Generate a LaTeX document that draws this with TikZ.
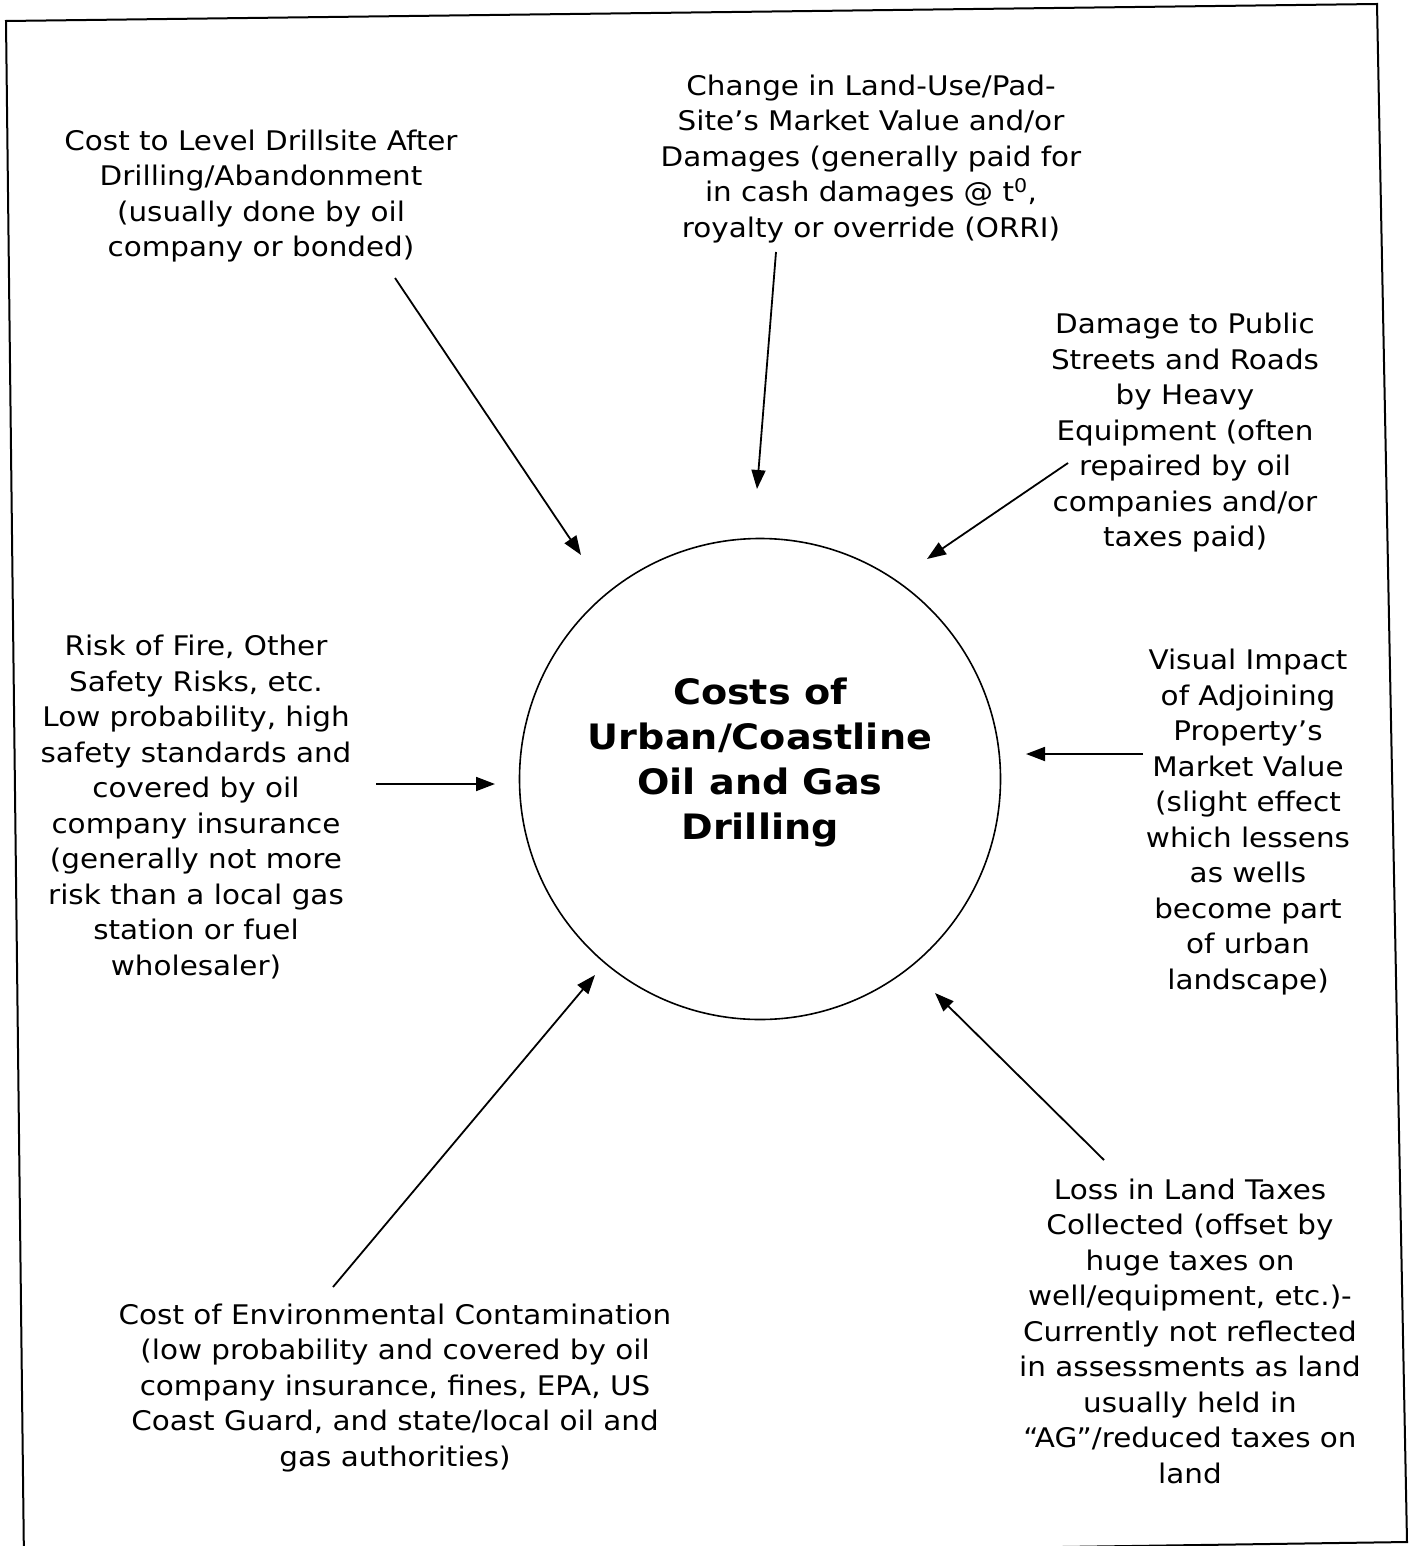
\documentclass[tikz,border=0pt]{standalone}
\usepackage{fontspec}
\setmainfont{DejaVu Sans}[FakeStretch=1.09]
\usetikzlibrary{arrows.meta}
\begin{document}
\begin{tikzpicture}[x=1pt,y=-1pt,
  lbl/.style={align=center, font=\fontsize{27}{35.5}\selectfont, inner sep=0pt},
  ttl/.style={align=center, font=\bfseries\fontsize{35}{45}\selectfont, inner sep=0pt},
  arr/.style={line width=1.8pt, -{Triangle[length=19pt,width=14pt]}},
  frame/.style={line width=2pt}]
\useasboundingbox (0,0) rectangle (1414,1546);
\draw[frame] (6,21) -- (1377,4) -- (1407,1542) -- (24,1562) -- cycle;
\node[circle, draw, line width=1.6pt, minimum size=481pt, inner sep=0pt] (c) at (760,779) {};
\node[ttl] (ct) at (760,762) {Costs of\\Urban/Coastline\\Oil and Gas\\Drilling};
\node[lbl] (t1) at (261,196) {Cost to Level Drillsite After\\Drilling/Abandonment\\(usually done by oil\\company or bonded)};
\node[lbl] (t2) at (871,159) {Change in Land-Use/Pad-\\Site’s Market Value and/or\\Damages (generally paid for\\in cash damages @ t\textsuperscript{0},\\royalty or override (ORRI)};
\node[lbl] (t3) at (1185,433) {Damage to Public\\Streets and Roads\\by Heavy\\Equipment (often\\repaired by oil\\companies and/or\\taxes paid)};
\node[lbl] (t4) at (196,807) {Risk of Fire, Other\\Safety Risks, etc.\\Low probability, high\\safety standards and\\covered by oil\\company insurance\\(generally not more\\risk than a local gas\\station or fuel\\wholesaler)};
\node[lbl] (t5) at (1248,822) {Visual Impact\\of Adjoining\\Property’s\\Market Value\\(slight effect\\which lessens\\as wells\\become part\\of urban\\landscape)};
\node[lbl] (t6) at (395,1388) {Cost of Environmental Contamination\\(low probability and covered by oil\\company insurance, fines, EPA, US\\Coast Guard, and state/local oil and\\gas authorities)};
\node[lbl] (t7) at (1190,1331) {Loss in Land Taxes\\Collected (offset by\\huge taxes on\\well/equipment, etc.)-\\Currently not reflected\\in assessments as land\\usually held in\\“AG”/reduced taxes on\\land};
\coordinate (a1s) at (395,278); \coordinate (a1e) at (581,555);
\coordinate (a2s) at (776,252); \coordinate (a2e) at (757,489);
\coordinate (a3s) at (1068,463); \coordinate (a3e) at (927,559);
\coordinate (a4s) at (376,784); \coordinate (a4e) at (495,784);
\coordinate (a5s) at (1143,754); \coordinate (a5e) at (1026,754);
\coordinate (a6s) at (333,1287); \coordinate (a6e) at (595,975);
\coordinate (a7s) at (1104,1160); \coordinate (a7e) at (935,993);
\draw[arr] (a1s) -- (a1e);
\draw[arr] (a2s) -- (a2e);
\draw[arr] (a3s) -- (a3e);
\draw[arr] (a4s) -- (a4e);
\draw[arr] (a5s) -- (a5e);
\draw[arr] (a6s) -- (a6e);
\draw[arr] (a7s) -- (a7e);
\end{tikzpicture}
\end{document}
